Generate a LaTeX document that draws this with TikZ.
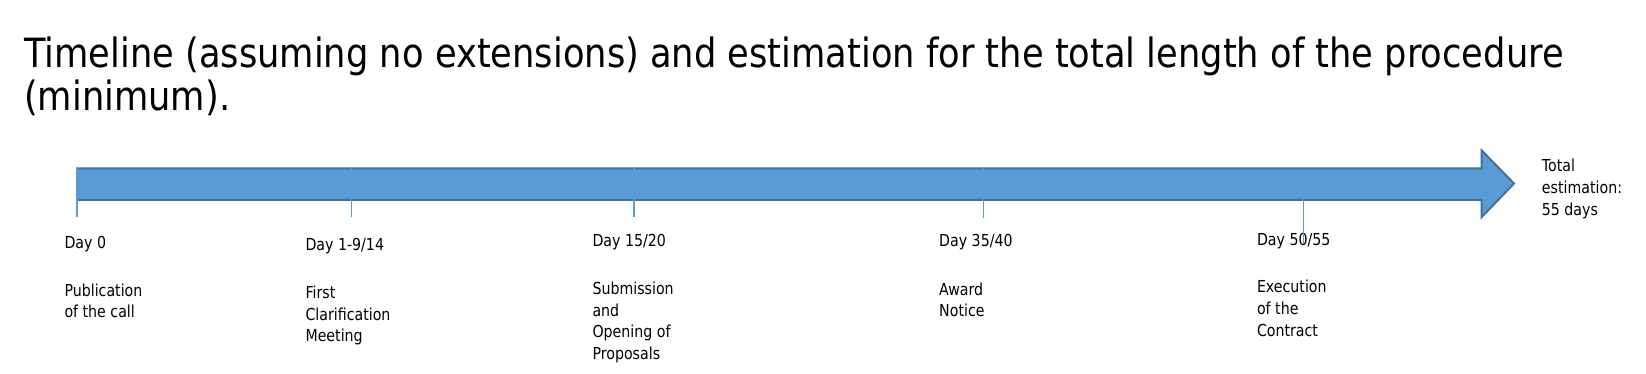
\documentclass[tikz,border=0pt]{standalone}
\usepackage{fontspec}
\setmainfont{DejaVu Sans}[FakeStretch=0.86]
\newfontfamily\titlefont{DejaVu Sans}[FakeStretch=0.875]
\definecolor{arrowfill}{HTML}{5B9BD5}
\definecolor{arrowline}{HTML}{41719C}
\begin{document}
\begin{tikzpicture}[x=1pt,y=-1pt,
  lbl/.style={anchor=base west,inner sep=0pt,align=left,font=\fontsize{16.5}{21.7}\selectfont},
  tick/.style={draw=arrowfill,line width=1.5pt},
  bigarrow/.style={fill=arrowfill,draw=arrowline,line width=2pt,line join=miter}]
\useasboundingbox (0,0) rectangle (1646,374);
% title (anchor at baseline of its last line)
\node[anchor=base west,inner sep=0pt,align=left,font=\titlefont\fontsize{40.3}{43}\selectfont] (title) at (24,110.7)
  {Timeline (assuming no extensions) and estimation for the total length of the procedure\\(minimum).};
% arrow
\draw[bigarrow] (77,168.3) -- (1481.5,168.3) -- (1481.5,150.3) -- (1514,183.5) -- (1481.5,217.3) -- (1481.5,200) -- (77,200) -- cycle;
% tick coordinates
\coordinate (t0a) at (77,168);    \coordinate (t0b) at (77,217);
\coordinate (t1a) at (351.7,168); \coordinate (t1b) at (351.7,217);
\coordinate (t2a) at (634,168);   \coordinate (t2b) at (634,217);
\coordinate (t3a) at (983.7,168); \coordinate (t3b) at (983.7,217.7);
\coordinate (t4a) at (1303.5,198);\coordinate (t4b) at (1303.5,244);
\draw[tick] (t0a) -- (t0b);
\draw[tick] (t1a) -- (t1b);
\draw[tick] (t2a) -- (t2b);
\draw[tick] (t3a) -- (t3b);
% labels (multi-line nodes anchored at the baseline of their last line)
\node[lbl] (d0) at (64.3,248.3) {Day 0};
\node[lbl] (e0) at (64.3,317.7) {Publication\\of the call};
\node[lbl] (d1) at (305.3,250) {Day 1-9/14};
\node[lbl] (e1) at (305.3,341.7) {First\\Clarification\\Meeting};
\node[lbl] (d2) at (592.3,246) {Day 15/20};
\node[lbl] (e2) at (592.3,359.4) {Submission\\and\\Opening of\\Proposals};
\node[lbl] (d3) at (939,246.7) {Day 35/40};
\node[lbl] (e3) at (939,316.7) {Award\\Notice};
\node[lbl] (d4) at (1256.8,245) {Day 50/55};
\node[lbl] (e4) at (1256.8,336.1) {Execution\\of the\\Contract};
\node[lbl] (tot) at (1541.7,215.1) {Total\\estimation:\\55 days};
\draw[tick] (t4a) -- (t4b);
\end{tikzpicture}
\end{document}
